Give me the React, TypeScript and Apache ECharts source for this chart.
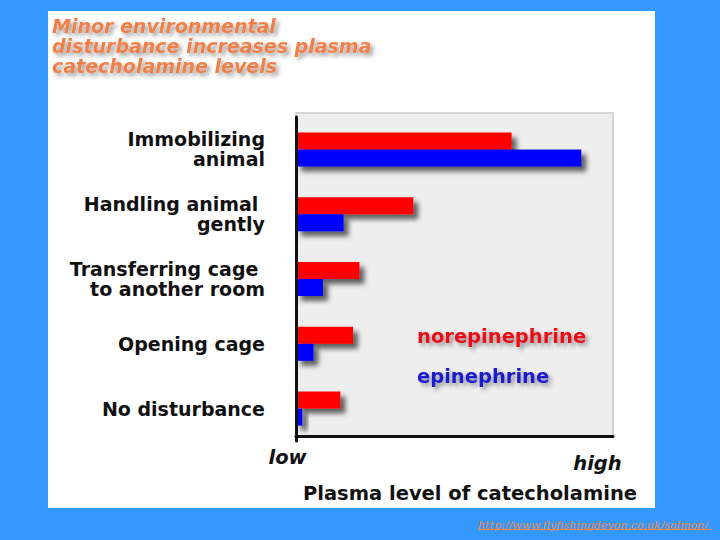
import { useEffect, useRef } from "react";
import * as echarts from "echarts";

const titleLines = ["Minor environmental", "disturbance increases plasma", "catecholamine levels"];
const categories = [
  "Immobilizing\nanimal",
  "Handling animal \ngently",
  "Transferring cage \nto another room",
  "Opening cage",
  "No disturbance",
];
const norepinephrine = [68, 37, 20, 18, 14];
const epinephrine = [90, 15, 8.5, 5.5, 2];
const seriesNames = ["norepinephrine", "epinephrine"];
const xTickLabels = ["low", "high"];
const xAxisTitle = "Plasma level of catecholamine";
const sourceUrl = "http://www.flyfishingdevon.co.uk/salmon/";

const FONT = "'DejaVu Sans', Verdana, sans-serif";

export default function App() {
  const ref = useRef<HTMLDivElement>(null);
  useEffect(() => {
    const chart = echarts.init(ref.current!, null, { renderer: "svg" });
    const shadow = {
      shadowColor: "rgba(0,0,0,0.6)",
      shadowBlur: 5,
      shadowOffsetX: 5,
      shadowOffsetY: 5,
    };
    const textShadow = {
      textShadowColor: "rgba(0,0,0,0.4)",
      textShadowBlur: 4,
      textShadowOffsetX: 3,
      textShadowOffsetY: 3,
    };
    const titleEls = titleLines.map((line, i) => ({
      type: "text",
      x: 52,
      y: 26 + i * 20,
      style: {
        text: line,
        fill: "#f08048",
        font: "italic bold 19px 'DejaVu Sans'",
        verticalAlign: "middle",
        textVerticalAlign: "middle",
        ...textShadow,
      },
    }));
    chart.setOption({
      animation: false,
      backgroundColor: "#3399ff",
      grid: { left: 296, top: 117, width: 317, height: 324 },
      xAxis: {
        type: "value",
        min: 0,
        max: 100,
        offset: -5,
        axisLine: { show: true, lineStyle: { color: "#111", width: 3 } },
        axisTick: { show: false },
        axisLabel: { show: false },
        splitLine: { show: false },
      },
      yAxis: {
        type: "category",
        data: categories,
        inverse: true,
        z: 5,
        axisLine: { show: true, lineStyle: { color: "#111", width: 3 } },
        axisTick: { show: false },
        axisLabel: {
          color: "#111",
          fontFamily: FONT,
          fontWeight: "bold",
          fontSize: 19,
          lineHeight: 20,
          margin: 31,
          align: "right",
        },
      },
      legend: {
        orient: "vertical",
        left: 412,
        top: 326,
        icon: "none",
        itemWidth: 0,
        itemHeight: 20,
        itemGap: 20,
        padding: 0,
        selectedMode: false,
        data: [
          { name: seriesNames[0], textStyle: { color: "#e81018" } },
          { name: seriesNames[1], textStyle: { color: "#1a1acc" } },
        ],
        textStyle: {
          fontFamily: FONT,
          fontWeight: "bold",
          fontSize: 19.5,
          ...textShadow,
        },
      },
      series: [
        {
          name: seriesNames[0],
          type: "bar",
          data: norepinephrine,
          barWidth: 17,
          barGap: "0%",
          itemStyle: { color: "#ff0000", ...shadow },
        },
        {
          name: seriesNames[1],
          type: "bar",
          data: epinephrine,
          barWidth: 17,
          barGap: "0%",
          itemStyle: { color: "#0000ff", ...shadow },
        },
      ],
      graphic: [
        {
          type: "rect",
          silent: true,
          z: -20,
          shape: { x: 48, y: 11, width: 607, height: 497 },
          style: { fill: "#ffffff" },
        },
        {
          type: "rect",
          silent: true,
          z: -10,
          shape: { x: 296, y: 113, width: 317, height: 323 },
          style: { fill: "#eeeeee", stroke: "#d4d4d4", lineWidth: 2 },
        },
        ...titleEls,
        {
          type: "text",
          x: 287.5,
          y: 457.5,
          style: {
            text: xTickLabels[0],
            fill: "#111",
            font: "italic bold 19.5px 'DejaVu Sans'",
            align: "center",
            verticalAlign: "middle",
            textAlign: "center",
            textVerticalAlign: "middle",
          },
        },
        {
          type: "text",
          x: 597.5,
          y: 463.5,
          style: {
            text: xTickLabels[1],
            fill: "#111",
            font: "italic bold 19.5px 'DejaVu Sans'",
            align: "center",
            verticalAlign: "middle",
            textAlign: "center",
            textVerticalAlign: "middle",
          },
        },
        {
          type: "text",
          x: 470,
          y: 493,
          style: {
            text: xAxisTitle,
            fill: "#111",
            font: "bold 19.5px 'DejaVu Sans'",
            align: "center",
            verticalAlign: "middle",
            textAlign: "center",
            textVerticalAlign: "middle",
          },
        },
        {
          type: "text",
          x: 478,
          y: 530.5,
          style: {
            text: sourceUrl,
            fill: "#ee8844",
            font: "italic 11px 'DejaVu Serif'",
            verticalAlign: "bottom",
            textVerticalAlign: "bottom",
          },
        },
        {
          type: "line",
          silent: true,
          shape: { x1: 478, y1: 529.5, x2: 712, y2: 529.5 },
          style: { stroke: "#ee8844", lineWidth: 1 },
        },
      ],
    });
    return () => chart.dispose();
  }, []);
  return (
    <div
      ref={ref}
      style={{ position: "fixed", left: 0, top: 0, width: 720, height: 540 }}
    />
  );
}
